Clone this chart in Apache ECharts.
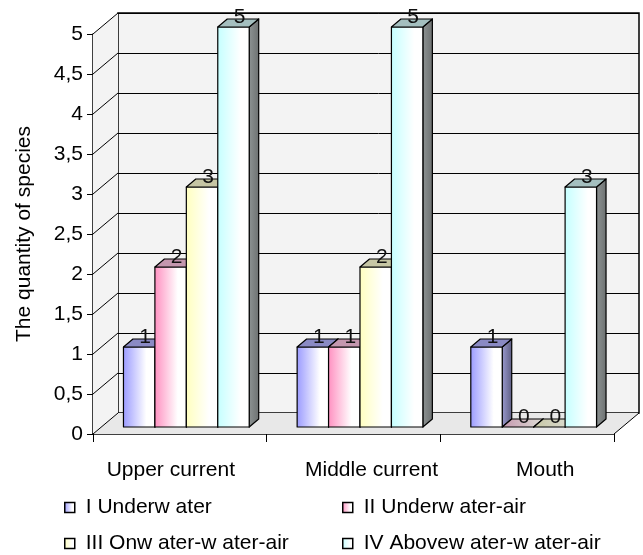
<!DOCTYPE html>
<html>
<head>
<meta charset="utf-8">
<script src="https://cdn.jsdelivr.net/npm/echarts@6/dist/echarts.min.js"></script>
<style>
  html, body { margin: 0; padding: 0; background: #fff; }
  #chart { width: 643px; height: 555px; }
</style>
</head>
<body>
<div id="chart"></div>
<script>
// Species counts per river section, split by ecological group
const CATEGORIES = ['Upper current', 'Middle current', 'Mouth'];
const SERIES_NAMES = ['I Underw ater', 'II Underw ater-air', 'III Onw ater-w ater-air', 'IV Abovew ater-w ater-air'];
const UNDERWATER = [1, 1, 1];
const UNDERWATER_AIR = [2, 1, 0];
const ONWATER_AIR = [3, 2, 0];
const ABOVEWATER_AIR = [5, 5, 3];
const Y_TICKS = [0, 0.5, 1, 1.5, 2, 2.5, 3, 3.5, 4, 4.5, 5];
const Y_MIN = 0, Y_MAX = 5, Y_STEP = 0.5;

const SERIES_VALUES = [UNDERWATER, UNDERWATER_AIR, ONWATER_AIR, ABOVEWATER_AIR];

// --- 3D look ---------------------------------------------------------------
const FONT = '"Liberation Sans", Arial, sans-serif';
const FS = 21;
const DEPTH_X = 25, DEPTH_Y = -21;        // full depth of the box (front -> back)
const FRONT_DX = 6.5, FRONT_DY = -7;      // bar front plane inside the box
const BAR_DX = 9.5, BAR_DY = -8;          // bar thickness in depth
const BAR_RATIO = 0.181;                  // bar width / category width
const LABEL_DX = 6;
const OUTLINE = '#000';

const PALETTE = [
  { front: '#9a9aff', top: '#8a8ac4', sideA: '#9c9cd0', sideB: '#5c5c80' },
  { front: '#ff8fc0', top: '#c497ae', sideA: '#d08aa8', sideB: '#80566a' },
  { front: '#ffffbe', top: '#c6c6a4', sideA: '#c8c8a0', sideB: '#7a7a66' },
  { front: '#c4ffff', top: '#a4bfbf', sideA: '#8e9494', sideB: '#6c7070' }
];

function frontGradient(c) {
  return new echarts.graphic.LinearGradient(0, 0, 1, 0, [
    { offset: 0, color: c },
    { offset: 0.72, color: '#ffffff' },
    { offset: 1, color: '#ffffff' }
  ]);
}
function sideGradient(a, b) {
  return new echarts.graphic.LinearGradient(0, 0, 1, 0, [
    { offset: 0, color: a },
    { offset: 1, color: b }
  ]);
}

function barRenderer(idx) {
  const pal = PALETTE[idx];
  return function (params, api) {
    const cat = api.value(0);
    const val = api.value(1);
    const topPt = api.coord([cat, val]);
    const basePt = api.coord([cat, 0]);
    const bw = api.size([1, 0])[0] * BAR_RATIO;
    const L = topPt[0] - 2 * bw + idx * bw + FRONT_DX;
    const R = L + bw;
    const T = topPt[1] + FRONT_DY;
    const B = basePt[1] + FRONT_DY;
    const children = [];
    const lineStyle = { stroke: OUTLINE, lineWidth: 1.2, lineJoin: 'round' };
    // right side face
    children.push({
      type: 'polygon',
      shape: { points: [[R, T], [R + BAR_DX, T + BAR_DY], [R + BAR_DX, B + BAR_DY], [R, B]] },
      style: Object.assign({ fill: sideGradient(pal.sideA, pal.sideB) }, lineStyle)
    });
    // front face
    if (B - T > 0.5) {
      children.push({
        type: 'rect',
        shape: { x: L, y: T, width: bw, height: B - T },
        style: Object.assign({ fill: frontGradient(pal.front) }, lineStyle)
      });
    }
    // top face
    children.push({
      type: 'polygon',
      shape: { points: [[L, T], [R, T], [R + BAR_DX, T + BAR_DY], [L + BAR_DX, T + BAR_DY]] },
      style: Object.assign({ fill: val === 0 ? sideGradient(pal.top, '#e0e0d8') : pal.top }, lineStyle)
    });
    // value label
    children.push({
      type: 'text',
      z2: 10,
      style: {
        text: String(val),
        x: L + bw / 2 + LABEL_DX,
        y: T + 1,
        align: 'center',
        verticalAlign: 'bottom',
        font: FS + 'px ' + FONT,
        fill: '#111'
      }
    });
    return { type: 'group', children: children };
  };
}

// Left wall + floor of the box
function wallsRenderer(params, api) {
  const cs = params.coordSys;
  const x0 = cs.x, x1 = cs.x + cs.width;
  const yTop = api.coord([0, Y_MAX])[1];
  const yBot = api.coord([0, Y_MIN])[1];
  return {
    type: 'group',
    children: [
      {
        type: 'polygon',
        shape: { points: [[x0, yTop], [x0 + DEPTH_X, yTop + DEPTH_Y], [x0 + DEPTH_X, yBot + DEPTH_Y], [x0, yBot]] },
        style: { fill: '#f3f3f3', stroke: null }
      },
      {
        type: 'polygon',
        shape: { points: [[x0, yBot], [x1, yBot], [x1 + DEPTH_X, yBot + DEPTH_Y], [x0 + DEPTH_X, yBot + DEPTH_Y]] },
        style: { fill: '#e8e8e8', stroke: null }
      },
      {
        type: 'line',
        shape: { x1: x1, y1: yBot, x2: x1 + DEPTH_X, y2: yBot + DEPTH_Y },
        style: { stroke: '#000', lineWidth: 1 }
      }
    ]
  };
}

// Diagonal grid lines on the left wall, one per tick
function wallLinesRenderer(params, api) {
  const cs = params.coordSys;
  const y = api.coord([0, api.value(1)])[1];
  return {
    type: 'line',
    shape: { x1: cs.x, y1: y, x2: cs.x + DEPTH_X, y2: y + DEPTH_Y },
    style: { stroke: '#000', lineWidth: 1 }
  };
}

const GRID_FRONT = { left: 93, right: 29, top: 34, bottom: 121 };
const GRID_BACK = {
  left: GRID_FRONT.left + DEPTH_X,
  right: GRID_FRONT.right - DEPTH_X,
  top: GRID_FRONT.top + DEPTH_Y,
  bottom: GRID_FRONT.bottom - DEPTH_Y
};

const chart = echarts.init(document.getElementById('chart'), null, { renderer: 'canvas' });

const barSeries = SERIES_VALUES.map(function (vals, i) {
  return {
    type: 'custom',
    name: SERIES_NAMES[i],
    xAxisIndex: 0,
    yAxisIndex: 0,
    clip: false,
    z: 5,
    itemStyle: { color: PALETTE[i].front },
    renderItem: barRenderer(i),
    data: vals.map(function (v, c) { return [c, v]; })
  };
});

// One legend box per entry, laid out as a 2 x 2 table
const LEGEND_POS = [[64, 497], [342, 497], [64, 533], [342, 533]];
const legends = SERIES_NAMES.map(function (name, i) {
  return {
    left: LEGEND_POS[i][0],
    top: LEGEND_POS[i][1],
    padding: 0,
    icon: 'rect',
    itemWidth: 10,
    itemHeight: 10,
    selectedMode: false,
    textStyle: { fontFamily: FONT, fontSize: FS, color: '#000', padding: [0, 0, 0, 6] },
    data: [{
      name: name,
      itemStyle: { color: frontGradient(PALETTE[i].front), borderColor: '#000', borderWidth: 1.5 }
    }]
  };
});

chart.setOption({
  animation: false,
  backgroundColor: '#fff',
  grid: [
    Object.assign({}, GRID_FRONT),
    Object.assign({ show: true, backgroundColor: '#f3f3f3', borderColor: '#000', borderWidth: 1.5 }, GRID_BACK)
  ],
  legend: legends,
  xAxis: [
    {
      type: 'category',
      gridIndex: 0,
      data: CATEGORIES,
      axisLine: { lineStyle: { color: '#000', width: 1.5 } },
      axisTick: { show: true, length: 8, lineStyle: { color: '#000', width: 1 } },
      axisLabel: {
        interval: 0,
        margin: 26,
        color: '#000',
        fontFamily: FONT,
        fontSize: FS,
        formatter: function (v, i) { return '{c' + i + '|' + v + '}'; },
        rich: {
          c0: { padding: [0, 18, 0, 0], fontFamily: FONT, fontSize: FS, color: '#000' },
          c1: { padding: [0, 0, 0, 36], fontFamily: FONT, fontSize: FS, color: '#000' },
          c2: { padding: [0, 0, 0, 36], fontFamily: FONT, fontSize: FS, color: '#000' }
        }
      }
    },
    { type: 'category', gridIndex: 1, data: CATEGORIES, show: false }
  ],
  yAxis: [
    {
      type: 'value',
      gridIndex: 0,
      min: Y_MIN,
      max: Y_MAX,
      interval: Y_STEP,
      name: 'The quantity of species',
      nameLocation: 'middle',
      nameGap: 58,
      nameTextStyle: { fontFamily: FONT, fontSize: FS, color: '#000' },
      axisLine: { show: true, lineStyle: { color: '#000', width: 1.5 } },
      axisTick: { show: true, length: 6, lineStyle: { color: '#000', width: 1 } },
      axisLabel: {
        margin: 10,
        color: '#000',
        fontFamily: FONT,
        fontSize: FS,
        formatter: function (v) { return String(v).replace('.', ','); }
      },
      splitLine: { show: false }
    },
    {
      type: 'value',
      gridIndex: 1,
      min: Y_MIN,
      max: Y_MAX,
      interval: Y_STEP,
      axisLine: { show: false },
      axisTick: { show: false },
      axisLabel: { show: false },
      splitLine: { show: true, lineStyle: { color: '#000', width: 1 } }
    }
  ],
  series: [
    {
      type: 'custom',
      name: 'walls',
      clip: false,
      z: 1,
      silent: true,
      renderItem: wallsRenderer,
      data: [[0, Y_MIN]]
    },
    {
      type: 'custom',
      name: 'wall-lines',
      clip: false,
      z: 2,
      silent: true,
      renderItem: wallLinesRenderer,
      data: Y_TICKS.map(function (t) { return [0, t]; })
    }
  ].concat(barSeries)
});
</script>
</body>
</html>
